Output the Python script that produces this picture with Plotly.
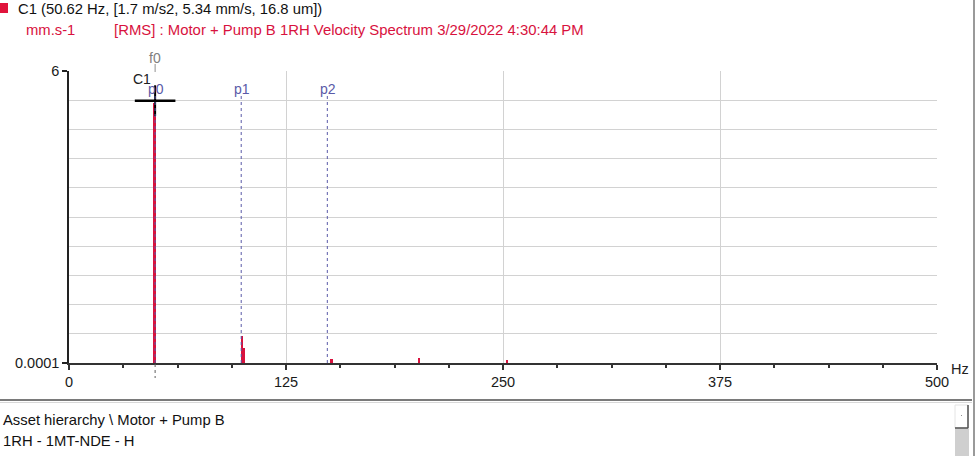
import plotly.graph_objects as go

# ---- data ----
freqs_hz = [49.4, 99.8, 101.0, 151.3, 201.8, 252.5]
amps_mms = [5.34, 0.56, 0.31, 0.08, 0.11, 0.06]
bar_widths_hz = [1.7, 0.8, 0.8, 1.0, 1.0, 0.8]

x_tick_vals = [0, 125, 250, 375, 500]
y_tick_vals = [0.0001, 6]
y_tick_text = ["0.0001", "6"]

marker_names = ["p0", "p1", "p2"]
marker_freqs = [49.6, 99.2, 148.8]
f0_freq = 49.6
cursor_freq = 49.6
cursor_amp = 5.39

header_line1 = "C1 (50.62 Hz, [1.7 m/s2, 5.34 mm/s, 16.8 um])"
unit_text = "mm.s-1"
title_text = "[RMS] : Motor + Pump B 1RH Velocity Spectrum 3/29/2022 4:30:44 PM"
bottom_lines = ["Asset hierarchy \\ Motor + Pump B", "1RH - 1MT-NDE - H"]

# ---- layout geometry (pixels) ----
W, H = 979, 456
L, R, T, B = 69, 937, 71, 363


def px(x):
    return (x - L) / (R - L)


def py(y):
    return (B - y) / (B - T)


FONT = "Liberation Sans"
RED = "#d8123e"
PURPLE = "#5a5aa8"

fig = go.Figure()
fig.add_trace(go.Bar(
    x=freqs_hz, y=amps_mms, width=bar_widths_hz,
    marker=dict(color=RED, line=dict(width=0)),
    base=0, hoverinfo="x+y", showlegend=False,
))

shapes = []
annotations = []

# harmonic markers (dotted) and labels
for name, f in zip(marker_names, marker_freqs):
    shapes.append(dict(type="line", xref="x", yref="paper", x0=f, x1=f,
                       y0=0, y1=py(96), line=dict(color=PURPLE, width=1, dash="dot"),
                       layer="above"))
    annotations.append(dict(xref="x", yref="paper", x=f, y=py(89), text=name,
                            showarrow=False, xanchor="center", yanchor="middle",
                            xshift=1, font=dict(family=FONT, size=14, color=PURPLE)))

# f0 marker: solid stub above plot, dotted below axis
shapes.append(dict(type="line", xref="x", yref="paper", x0=f0_freq, x1=f0_freq,
                   y0=py(72), y1=py(64), line=dict(color="#909090", width=1)))
shapes.append(dict(type="line", xref="x", yref="paper", x0=f0_freq, x1=f0_freq,
                   y0=py(364), y1=py(378), line=dict(color="#606060", width=1, dash="dot")))
annotations.append(dict(xref="x", yref="paper", x=f0_freq, y=py(58), text="f0",
                        showarrow=False, xanchor="center", yanchor="middle",
                        font=dict(family=FONT, size=14, color="#808080")))
annotations.append(dict(xref="x", yref="paper", x=f0_freq, y=py(79), text="C1",
                        showarrow=False, xanchor="center", yanchor="middle", xshift=-13,
                        font=dict(family=FONT, size=14, color="#202020")))

# cursor cross (horizontal arm wider than vertical arm)
fig.add_trace(go.Scatter(
    x=[cursor_freq], y=[cursor_amp], mode="markers",
    marker=dict(symbol="line-ew", size=29, line=dict(color="black", width=2.5)),
    showlegend=False, hoverinfo="skip",
))
fig.add_trace(go.Scatter(
    x=[cursor_freq], y=[cursor_amp], mode="markers",
    marker=dict(symbol="line-ns", size=22, line=dict(color="black", width=2)),
    showlegend=False, hoverinfo="skip",
))

# header
shapes.append(dict(type="rect", xref="paper", yref="paper",
                   x0=px(0), x1=px(8), y0=py(13), y1=py(3),
                   fillcolor="#e0143c", line=dict(width=0)))
annotations.append(dict(xref="paper", yref="paper", x=px(16), y=py(9), text=header_line1,
                        showarrow=False, xanchor="left", yanchor="middle",
                        font=dict(family=FONT, size=14.8, color="#111111")))
annotations.append(dict(xref="paper", yref="paper", x=px(24), y=py(30), text=unit_text,
                        showarrow=False, xanchor="left", yanchor="middle",
                        font=dict(family=FONT, size=14.8, color=RED)))
annotations.append(dict(xref="paper", yref="paper", x=px(112), y=py(30), text=title_text,
                        showarrow=False, xanchor="left", yanchor="middle",
                        font=dict(family=FONT, size=14.9, color=RED)))

# Hz unit label
annotations.append(dict(xref="paper", yref="paper", x=px(949), y=py(369), text="Hz",
                        showarrow=False, xanchor="left", yanchor="middle",
                        font=dict(family=FONT, size=14.5, color="#222222")))

# bottom panel
shapes.append(dict(type="line", xref="paper", yref="paper", x0=px(0), x1=px(972),
                   y0=py(400), y1=py(400), line=dict(color="#7a7a7a", width=2)))
shapes.append(dict(type="line", xref="paper", yref="paper", x0=px(0), x1=px(972),
                   y0=py(402.5), y1=py(402.5), line=dict(color="#d8d8d8", width=1)))
shapes.append(dict(type="line", xref="paper", yref="paper", x0=px(974), x1=px(974),
                   y0=py(0), y1=py(456), line=dict(color="#9a9a9a", width=2)))
shapes.append(dict(type="rect", xref="paper", yref="paper", x0=px(955), x1=px(969),
                   y0=py(456), y1=py(428), fillcolor="#cfcfcf", line=dict(width=0)))
shapes.append(dict(type="rect", xref="paper", yref="paper", x0=px(955), x1=px(968),
                   y0=py(428), y1=py(405), fillcolor="#ffffff",
                   line=dict(color="#e4e4e4", width=1)))
shapes.append(dict(type="line", xref="paper", yref="paper", x0=px(968), x1=px(968),
                   y0=py(428), y1=py(405), line=dict(color="#505050", width=1.5)))
shapes.append(dict(type="line", xref="paper", yref="paper", x0=px(955), x1=px(968),
                   y0=py(428), y1=py(428), line=dict(color="#505050", width=1.5)))
shapes.append(dict(type="rect", xref="paper", yref="paper", x0=px(961), x1=px(962),
                   y0=py(416), y1=py(415), fillcolor="#909090", line=dict(width=0)))
for i, t in enumerate(bottom_lines):
    annotations.append(dict(xref="paper", yref="paper", x=px(1), y=py(420 + 21 * i), text=t,
                            showarrow=False, xanchor="left", yanchor="middle",
                            font=dict(family=FONT, size=14.8, color="#111111")))

fig.update_layout(
    width=W, height=H,
    margin=dict(l=L, r=W - R, t=T, b=H - B, pad=0),
    paper_bgcolor="white", plot_bgcolor="white",
    bargap=0, showlegend=False,
    font=dict(family=FONT, size=14.5, color="#222222"),
    shapes=shapes, annotations=annotations,
    xaxis=dict(
        range=[0, 500], tickvals=x_tick_vals, ticks="outside", ticklen=5,
        tickcolor="#333333", tickwidth=1.5,
        showline=True, linecolor="#333333", linewidth=2,
        showgrid=True, gridcolor="#d2d2d2", gridwidth=1, zeroline=False,
        minor=dict(dtick=31.25, tick0=0, ticks="outside", ticklen=3,
                   tickcolor="#333333", tickwidth=1.5, showgrid=False),
        tickfont=dict(family=FONT, size=14.5, color="#1a1a1a"),
        fixedrange=True,
    ),
    yaxis=dict(
        range=[0.0001, 6], tickvals=y_tick_vals, ticktext=y_tick_text,
        ticks="outside", ticklen=5, tickcolor="#222222", tickwidth=1.5,
        showline=True, linecolor="#222222", linewidth=1.5,
        showgrid=True, gridcolor="#d2d2d2", gridwidth=1, zeroline=False,
        minor=dict(dtick=0.6, tick0=0, showgrid=True, gridcolor="#d2d2d2",
                   ticks=""),
        tickfont=dict(family=FONT, size=14.5, color="#1a1a1a"),
        fixedrange=True,
    ),
)

fig.write_html("out.html", config={"displayModeBar": False},
               post_script="document.body.style.margin='0px';document.body.style.overflow='hidden';")
